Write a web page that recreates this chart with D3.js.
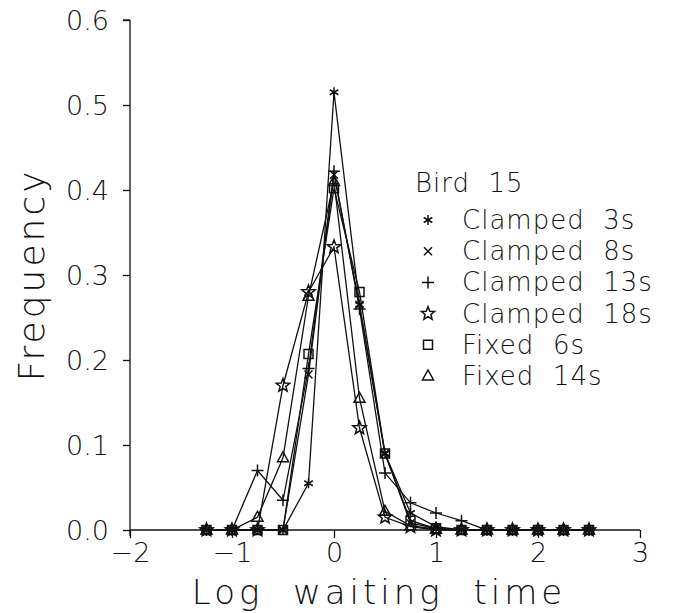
<!DOCTYPE html>
<html>
<head>
<meta charset="utf-8">
<script src="https://cdn.jsdelivr.net/npm/d3@7"></script>
<style>
  body { margin: 0; background: #fff; }
  text { font-family: "DejaVu Sans", sans-serif; font-weight: 200; fill: #111; white-space: pre; }
</style>
</head>
<body>
<div id="plot"></div>
<script>
// log waiting time bins
let logTime = [-1.25, -1, -0.75, -0.5, -0.25, 0, 0.25, 0.5, 0.75, 1, 1.25, 1.5, 1.75, 2, 2.25, 2.5];

let clamped3  = [0, 0, 0,     0,     0.055, 0.515, 0.265, 0.09,  0.02,  0.004, 0,     0, 0, 0, 0, 0];
let clamped8  = [0, 0, 0,     0,     0.183, 0.418, 0.265, 0.09,  0.008, 0.002, 0,     0, 0, 0, 0, 0];
let clamped13 = [0, 0, 0.07,  0.035, 0.19,  0.422, 0.26,  0.067, 0.032, 0.02,  0.011, 0, 0, 0, 0, 0];
let clamped18 = [0, 0, 0,     0.17,  0.28,  0.333, 0.12,  0.015, 0.004, 0,     0,     0, 0, 0, 0, 0];
let fixed6    = [0, 0, 0,     0,     0.207, 0.402, 0.28,  0.09,  0.011, 0.002, 0,     0, 0, 0, 0, 0];
let fixed14   = [0, 0, 0.015, 0.085, 0.275, 0.41,  0.155, 0.022, 0.005, 0.001, 0,     0, 0, 0, 0, 0];

let seriesNames = ['Clamped  3s', 'Clamped  8s', 'Clamped  13s', 'Clamped  18s', 'Fixed  6s', 'Fixed  14s'];
let seriesValues = [clamped3, clamped8, clamped13, clamped18, fixed6, fixed14];
let seriesSymbols = ['asterisk', 'cross', 'plus', 'star', 'square', 'triangle'];

let xTicks = [-2, -1, 0, 1, 2, 3];
let yTicks = [0, 0.1, 0.2, 0.3, 0.4, 0.5, 0.6];

let width = 678, height = 613;
let margin = { top: 20, bottom: 83, left: 130, right: 38 };

let svg = d3.select('#plot')
  .append('svg')
  .attr('width', width)
  .attr('height', height);

let xScale = d3.scaleLinear()
  .domain([-2, 3])
  .range([margin.left, width - margin.right]);

let yScale = d3.scaleLinear()
  .domain([0, 0.6])
  .range([height - margin.bottom, margin.top]);

// marker shapes
function symbolPath(type) {
  let p = d3.path();
  if (type == 'asterisk') {
    let r = 5;
    for (let a of [90, 30, -30]) {
      let c = Math.cos(a * Math.PI / 180) * r, s = Math.sin(a * Math.PI / 180) * r;
      p.moveTo(-c, -s); p.lineTo(c, s);
    }
  } else if (type == 'cross') {
    let r = 4;
    p.moveTo(-r, -r); p.lineTo(r, r); p.moveTo(-r, r); p.lineTo(r, -r);
  } else if (type == 'plus') {
    let r = 6;
    p.moveTo(-r, 0); p.lineTo(r, 0); p.moveTo(0, -r); p.lineTo(0, r);
  } else if (type == 'star') {
    for (let i = 0; i < 10; i++) {
      let r = i % 2 == 0 ? 7 : 3;
      let a = -Math.PI / 2 + i * Math.PI / 5;
      if (i == 0) p.moveTo(Math.cos(a) * r, Math.sin(a) * r);
      else p.lineTo(Math.cos(a) * r, Math.sin(a) * r);
    }
    p.closePath();
  } else if (type == 'square') {
    p.rect(-4.5, -4.5, 9, 9);
  } else if (type == 'triangle') {
    p.moveTo(0, -6); p.lineTo(5.5, 4); p.lineTo(-5.5, 4); p.closePath();
  }
  return p.toString();
}

// axes
let yAxis = svg.append('g')
  .attr('transform', `translate(${margin.left},0)`)
  .call(d3.axisLeft(yScale).tickValues(yTicks).tickFormat(d3.format('.1f')).tickSize(7).tickPadding(14));

let xAxis = svg.append('g')
  .attr('transform', `translate(0,${height - margin.bottom})`)
  .call(d3.axisBottom(xScale).tickValues(xTicks).tickFormat(d => d < 0 ? '\u2212' + Math.abs(d) : d).tickSize(8).tickPadding(4));

svg.selectAll('.domain').attr('stroke', '#111').attr('stroke-width', 1.3);
svg.selectAll('.tick line').attr('stroke', '#111').attr('stroke-width', 1.3);
svg.selectAll('.tick text')
  .style('font-family', '"DejaVu Sans", sans-serif')
  .style('font-weight', '200')
  .style('font-size', '27px')
  .attr('fill', '#111');
yAxis.selectAll('.tick text').attr('dy', '0.36em');
xAxis.selectAll('.tick text').attr('dy', '0.75em');
// replace domain paths with plain lines
yAxis.select('.domain').attr('d', `M0,${yScale(0.6)}V${yScale(0) + 6}`);
yAxis.append('line').attr('x1', -7).attr('x2', 0).attr('y1', yScale(0.6)).attr('y2', yScale(0.6)).attr('stroke', '#111').attr('stroke-width', 1.3);
xAxis.select('.domain').attr('d', `M${xScale(-2)},0H${xScale(3)}`);

// lines and markers
let line = d3.line()
  .x((d, i) => xScale(logTime[i]))
  .y(d => yScale(d));

seriesValues.forEach((vals, k) => {
  svg.append('path')
    .datum(vals)
    .attr('d', line)
    .attr('fill', 'none')
    .attr('stroke', '#111')
    .attr('stroke-width', 1.3);

  svg.append('g')
    .selectAll('path')
    .data(vals)
    .enter()
    .append('path')
    .attr('transform', (d, i) => `translate(${xScale(logTime[i])},${yScale(d)})`)
    .attr('d', symbolPath(seriesSymbols[k]))
    .attr('fill', 'none')
    .attr('stroke', '#111')
    .attr('stroke-width', 1.5);
});

// axis titles
svg.append('text')
  .attr('x', 379)
  .attr('y', 604)
  .attr('text-anchor', 'middle')
  .style('font-size', '34px')
  .style('letter-spacing', '4px')
  .text('Log  waiting  time');

svg.append('text')
  .attr('transform', `translate(44,${yScale(0.3)}) rotate(-90)`)
  .attr('text-anchor', 'middle')
  .style('font-size', '36px')
  .style('letter-spacing', '3px')
  .text('Frequency');

// legend
svg.append('text')
  .attr('x', 415)
  .attr('y', 192)
  .style('font-size', '26px')
  .style('letter-spacing', '1px')
  .text('Bird  15');

let legend = svg.selectAll('.legend')
  .data(seriesNames)
  .enter()
  .append('g')
  .attr('class', 'legend')
  .attr('transform', (d, i) => `translate(428,${220 + i * 31.2})`);

legend.append('path')
  .attr('d', (d, i) => symbolPath(seriesSymbols[i]))
  .attr('fill', 'none')
  .attr('stroke', '#111')
  .attr('stroke-width', 1.5);

legend.append('text')
  .attr('x', 34)
  .attr('y', 9)
  .style('font-size', '26px')
  .style('letter-spacing', '1px')
  .text(d => d);
</script>
</body>
</html>
